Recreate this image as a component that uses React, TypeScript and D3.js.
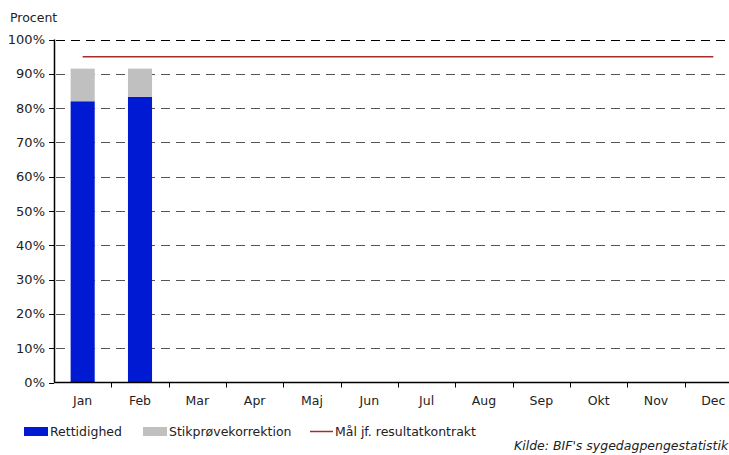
import React from "react";
import * as d3 from "d3";

const months = ["Jan", "Feb", "Mar", "Apr", "Maj", "Jun", "Jul", "Aug", "Sep", "Okt", "Nov", "Dec"];
const rettidighed: (number | null)[] = [82.0, 83.3, null, null, null, null, null, null, null, null, null, null];
const stikproeve: (number | null)[] = [9.5, 8.2, null, null, null, null, null, null, null, null, null, null];
const maal: number[] = [95, 95, 95, 95, 95, 95, 95, 95, 95, 95, 95, 95];
const yTicks = [0, 10, 20, 30, 40, 50, 60, 70, 80, 90, 100];

const W = 729;
const H = 455;
const left = 54;
const right = 742;
const top = 39.5;
const bottom = 382.5;
const font = "DejaVu Sans, Verdana, sans-serif";
const BLUE = "#0019d2";
const GRAY = "#c0c0c0";
const RED = "#a82a2a";

export default function App() {
  const x = d3.scaleBand<string>().domain(months).range([left, right]).paddingInner(0.58).paddingOuter(0.29);
  const xc = d3.scaleBand<string>().domain(months).range([left, right]);
  const y = d3.scaleLinear().domain([0, 100]).range([bottom, top]);
  const line = d3
    .line<number>()
    .x((_, i) => (xc(months[i]) as number) + xc.bandwidth() / 2)
    .y((d) => y(d));

  return (
    <svg width={W} height={H} style={{ position: "absolute", left: 0, top: 0 }} fontFamily={font}>
      <rect width={W} height={H} fill="#fff" />
      <text x={10} y={22} fontSize={12.5} fill="#222">Procent</text>
      {yTicks.map((t) => (
        <g key={t}>
          {t > 0 && (
            <line
              x1={left}
              x2={727}
              y1={Math.round(y(t)) + 0.5}
              y2={Math.round(y(t)) + 0.5}
              stroke={t === 100 ? "#000" : "#555"}
              strokeDasharray="9,6"
              strokeDashoffset={-2}
            />
          )}
          <line x1={left - 5} x2={left} y1={Math.round(y(t)) + 0.5} y2={Math.round(y(t)) + 0.5} stroke="#000" />
          <text x={45} y={y(t) + 4.5} fontSize={13} textAnchor="end" fill="#222">{t}%</text>
        </g>
      ))}
      {months.map((m, i) => {
        const r = rettidighed[i];
        const s = stikproeve[i];
        const bx = x(m) as number;
        const bw = x.bandwidth();
        return (
          <g key={m}>
            {r != null && <rect x={bx} width={bw} y={y(r)} height={y(0) - y(r)} fill={BLUE} />}
            {r != null && s != null && <rect x={bx} width={bw} y={y(r + s)} height={y(r) - y(r + s)} fill={GRAY} />}
          </g>
        );
      })}
      <path d={line(maal) || ""} fill="none" stroke={RED} strokeWidth={1.5} />
      <line x1={left + 0.5} x2={left + 0.5} y1={top} y2={bottom} stroke="#000" strokeWidth={1.5} />
      <line x1={left} x2={right} y1={bottom} y2={bottom} stroke="#000" strokeWidth={1.5} />
      {months.map((m, i) => (
        <g key={"t" + m}>
          {i > 0 && (
            <line x1={Math.round(xc(m) as number) + 0.5} x2={Math.round(xc(m) as number) + 0.5} y1={bottom} y2={bottom + 5} stroke="#000" />
          )}
          <text x={(xc(m) as number) + xc.bandwidth() / 2} y={405} fontSize={12.5} textAnchor="middle" fill="#222">{m}</text>
        </g>
      ))}
      <g fontSize={12.5} fill="#222">
        <rect x={24} y={427} width={24} height={9} fill={BLUE} />
        <text x={50} y={435.5}>Rettidighed</text>
        <rect x={143} y={427} width={24} height={9} fill={GRAY} />
        <text x={169} y={435.5}>Stikprøvekorrektion</text>
        <line x1={310} x2={333} y1={431.5} y2={431.5} stroke={RED} strokeWidth={1.5} />
        <text x={335} y={435.5}>Mål jf. resultatkontrakt</text>
      </g>
      <text x={514} y={450} fontSize={12.5} fontStyle="italic" fill="#222">Kilde: BIF's sygedagpengestatistik</text>
    </svg>
  );
}
